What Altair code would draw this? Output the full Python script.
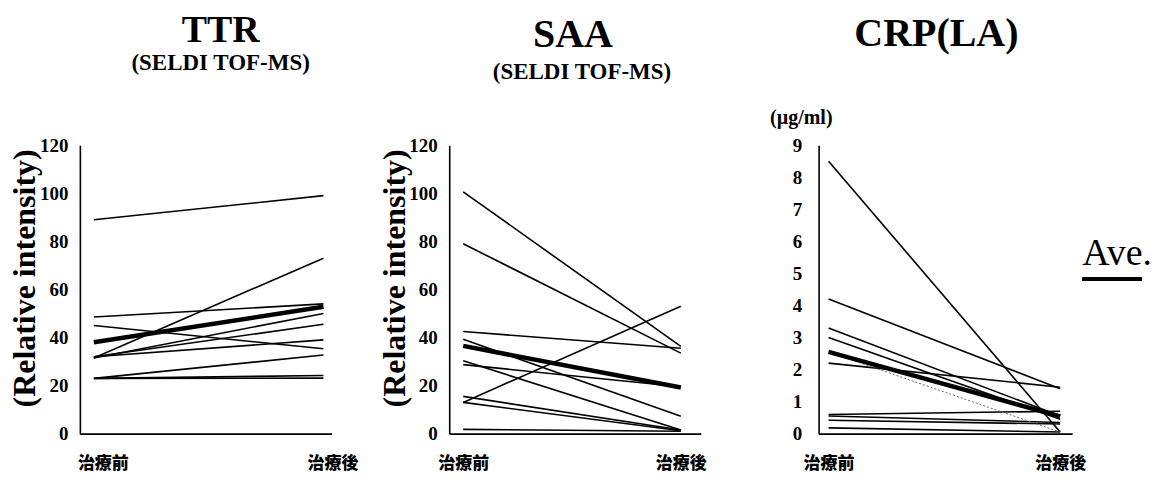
import altair as alt
import pandas as pd

# ---------------- data ----------------
phases = [0, 1]  # 0 = 治療前, 1 = 治療後
phase_labels = ["治療前", "治療後"]

ttr_before = [89, 48.5, 45, 31.5, 31.5, 32, 32, 23, 23, 23]
ttr_after = [99, 54, 35.3, 73, 50, 45.5, 39, 32.7, 24.2, 23.1]
ttr_avg = [38, 52.8]

saa_before = [100.6, 79, 42.5, 39.3, 30.3, 28.7, 15.5, 13, 13, 1.8]
saa_after = [36.3, 33.5, 35.5, 7.2, 1.5, 19.5, 1.5, 53, 1.2, 1.0]
saa_avg = [36.5, 19.2]

crp_before = [8.5, 4.2, 3.3, 3.0, 2.2, 0.6, 0.55, 0.42, 0.18]
crp_after = [0.05, 1.4, 0.55, 0.45, 1.45, 0.7, 0.35, 0.3, 0.05]
crp_faint = [2.55, 0.05]
crp_avg = [2.55, 0.54]

SERIF = "Liberation Serif"
CJK = "Noto Sans CJK JP"


def long_df(before, after):
    rows = []
    for i, (b, a) in enumerate(zip(before, after)):
        rows.append({"id": i, "x": phases[0], "y": b})
        rows.append({"id": i, "x": phases[1], "y": a})
    return pd.DataFrame(rows)


def pair_df(vals):
    return pd.DataFrame({"id": [0, 0], "x": phases, "y": vals})


def text_layer(text, x, y, size, weight="bold", align="center"):
    return alt.Chart(pd.DataFrame({"t": [text]})).mark_text(
        font=SERIF, fontSize=size, fontWeight=weight, align=align,
        baseline="alphabetic", color="black"
    ).encode(x=alt.value(x), y=alt.value(y), text="t:N")


label_expr = "datum.value == 0 ? '%s' : '%s'" % (phase_labels[0], phase_labels[1])


def panel(before, after, avg, ydom, yvals, width, height, xdom, label_off,
          ytitle, ylabpad, extra, faint=None):
    xenc = alt.X("x:Q", scale=alt.Scale(domain=xdom, nice=False, zero=False),
                 axis=alt.Axis(values=phases, labelExpr=label_expr, ticks=False,
                               grid=False, domainColor="black", domainWidth=1.6,
                               labelFont=CJK, labelFontSize=17, labelFontWeight=900,
                               labelColor="black", labelPadding=22,
                               labelOffset=label_off, labelFlush=False, title=None))
    yaxis = dict(values=yvals, ticks=False, grid=False, domainColor="black",
                 domainWidth=1.6, labelFont=SERIF, labelFontSize=19,
                 labelFontWeight="bold", labelColor="black", labelPadding=ylabpad,
                 labelFlush=False, labelOverlap=False)
    if ytitle:
        yaxis.update(title=ytitle, titleFont=SERIF, titleFontSize=32,
                     titleFontWeight="bold", titleColor="black",
                     titleAngle=270, titleAlign="center", titleBaseline="bottom",
                     titleX=-38, titleY=133)
    else:
        yaxis.update(title=None)
    yenc = alt.Y("y:Q", scale=alt.Scale(domain=ydom, nice=False),
                 axis=alt.Axis(**yaxis))
    thin = alt.Chart(long_df(before, after)).mark_line(
        color="black", strokeWidth=1.6).encode(x=xenc, y=yenc, detail="id:N")
    layers = [thin]
    if faint is not None:
        layers.append(alt.Chart(pair_df(faint)).mark_line(
            color="#666666", strokeWidth=1, strokeDash=[2, 2]).encode(
            x=xenc, y=yenc))
    layers.append(alt.Chart(pair_df(avg)).mark_line(
        color="black", strokeWidth=4.5).encode(x=xenc, y=yenc))
    layers += extra
    return alt.layer(*layers).properties(width=width, height=height)


H = 289
p1 = panel(ttr_before, ttr_after, ttr_avg, [0, 120], list(range(0, 121, 20)),
           252, H, [-14 / 230, 238 / 230], 9, "(Relative intensity)", 12,
           [text_layer("TTR", 141, -103, 38),
            text_layer("(SELDI TOF-MS)", 141, -75, 23)])

p2 = panel(saa_before, saa_after, saa_avg, [0, 120], list(range(0, 121, 20)),
           252, H, [-14 / 218, 238 / 218], 0, "(Relative intensity)", 12,
           [text_layer("SAA", 124, -98, 40),
            text_layer("(SELDI TOF-MS)", 133, -66, 23)])

ave_rule = alt.Chart(pd.DataFrame({"a": [0]})).mark_rule(
    color="black", strokeWidth=4).encode(
    x=alt.value(264), x2=alt.value(324), y=alt.value(134))

p3 = panel(crp_before, crp_after, crp_avg, [0, 9], list(range(0, 10)),
           254, H, [-10 / 232, 244 / 232], 0, None, 17,
           [text_layer("CRP(LA)", 118, -99, 40),
            text_layer("(µg/ml)", 14, -21, 20, align="right"),
            text_layer("Ave.", 264, 120, 38, weight="normal", align="left"),
            ave_rule],
           faint=crp_faint)

chart = alt.hconcat(p1, p2, p3, spacing=118, bounds="flush").configure_view(
    stroke=None).properties(
    padding={"left": 0, "top": 4, "right": 5, "bottom": 5},
    background="white")

chart.save("out.html", embed_options={"renderer": "svg", "actions": False})
